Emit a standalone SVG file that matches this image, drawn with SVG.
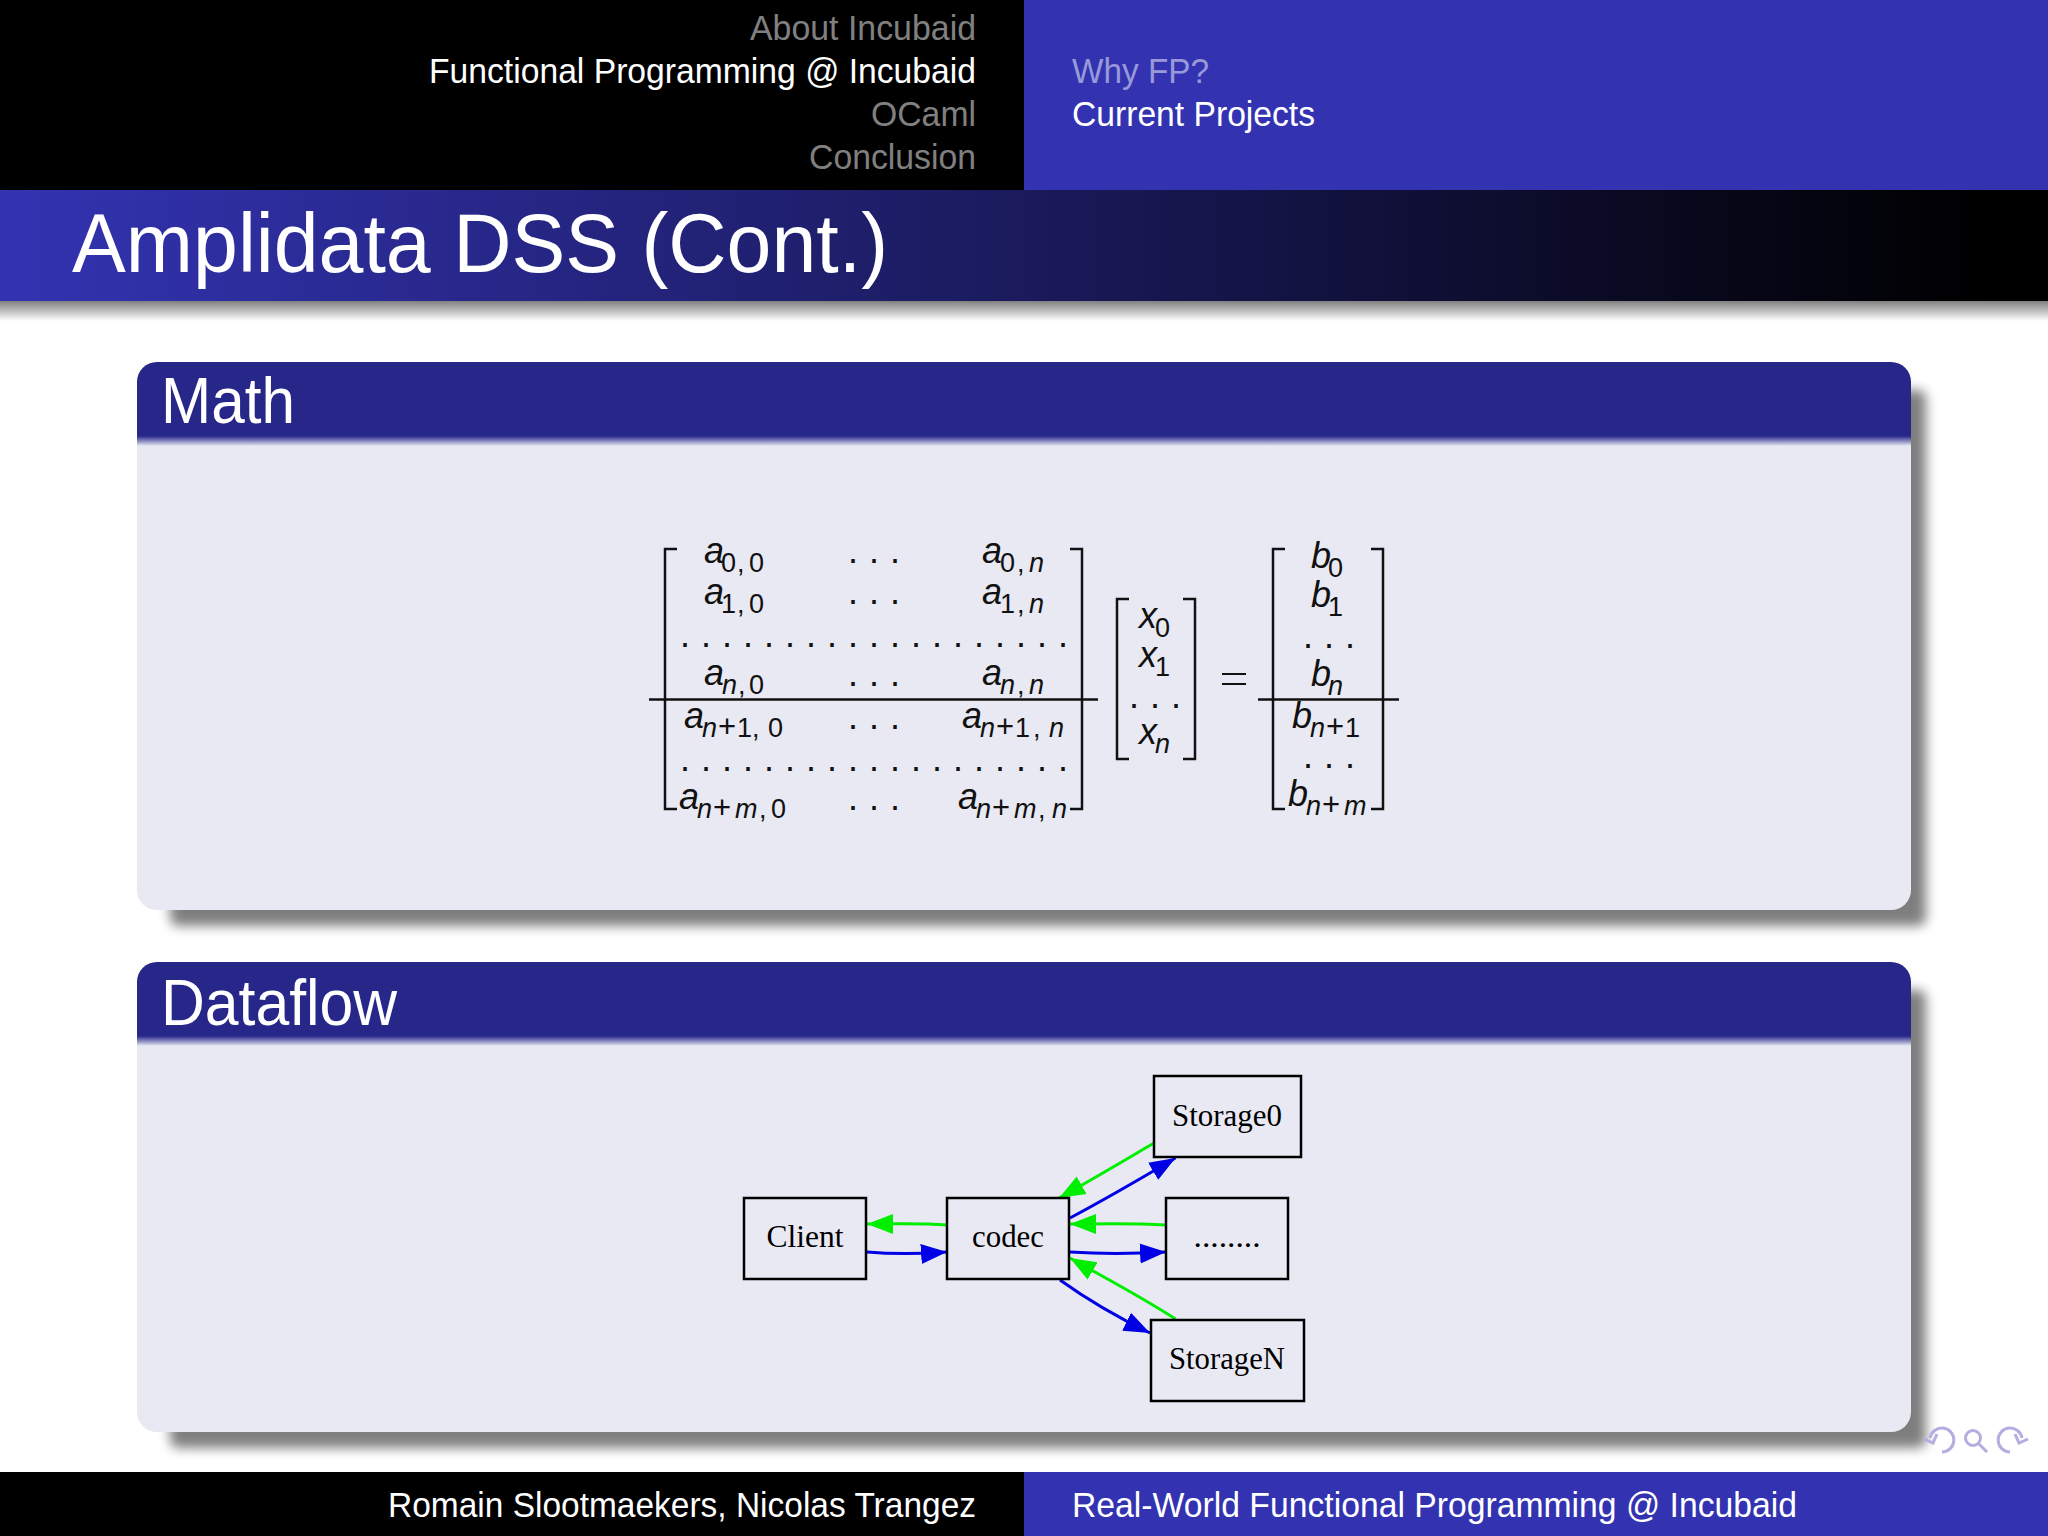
<svg xmlns="http://www.w3.org/2000/svg" width="2048" height="1536" viewBox="0 0 2048 1536">
<style>
text{font-family:"Liberation Sans",Arial,sans-serif}
.h{font-size:35px}
.dim{fill:#808080}.act{fill:#fff}.dimb{fill:#9999d9}
.bt{font-size:65px;fill:#fff}
.m{font-size:36px;font-style:italic;fill:#111}
.s{font-size:27px}.u{font-style:normal}.p{font-size:31px}
.d{font-size:36px;fill:#111;letter-spacing:11px}
.br{fill:none;stroke:#111;stroke-width:2.5}
.rule{stroke:#111;stroke-width:2.5}
.nb{fill:none;stroke:#000;stroke-width:2.5}
.nt{font-family:"Liberation Serif","Times New Roman",serif;font-size:32px;fill:#000;text-anchor:middle}
.g{fill:none;stroke:#00ee00;stroke-width:3}
.b{fill:none;stroke:#0000e6;stroke-width:3}
.nav{fill:none;stroke:#b3aede;stroke-width:3}
</style>
<defs>
<linearGradient id="tg" x1="0" x2="1" y1="0" y2="0"><stop offset="0" stop-color="#3333b2"/><stop offset="0.5" stop-color="#1a1a5c"/><stop offset="0.97" stop-color="#000"/></linearGradient>
<linearGradient id="ts" x1="0" x2="0" y1="0" y2="1"><stop offset="0" stop-color="#808080"/><stop offset="1" stop-color="#fff"/></linearGradient>
<linearGradient id="hb" x1="0" x2="0" y1="0" y2="1"><stop offset="0" stop-color="#272789"/><stop offset="1" stop-color="#e9e9f3"/></linearGradient>
<filter id="bl" x="-5%" y="-10%" width="110%" height="120%"><feGaussianBlur stdDeviation="6"/></filter>
<marker id="ag" markerUnits="userSpaceOnUse" markerWidth="27" markerHeight="21" refX="26" refY="10.500" orient="auto"><path d="M0,0.500L26,10.500L0,20.500Z" fill="#00ee00"/></marker>
<marker id="ab" markerUnits="userSpaceOnUse" markerWidth="27" markerHeight="21" refX="26" refY="10.500" orient="auto"><path d="M0,0.500L26,10.500L0,20.500Z" fill="#0000e6"/></marker>
</defs>
<rect width="2048" height="1536" fill="#fff"/>
<g id="header">
<rect width="1024" height="190" fill="#000"/>
<rect x="1024" width="1024" height="190" fill="#3333b2"/>
<text class="h dim" x="976" y="40" text-anchor="end" textLength="226" lengthAdjust="spacingAndGlyphs">About Incubaid</text>
<text class="h act" x="976" y="83" text-anchor="end" textLength="547" lengthAdjust="spacingAndGlyphs">Functional Programming @ Incubaid</text>
<text class="h dim" x="976" y="126" text-anchor="end" textLength="105" lengthAdjust="spacingAndGlyphs">OCaml</text>
<text class="h dim" x="976" y="169" text-anchor="end" textLength="167" lengthAdjust="spacingAndGlyphs">Conclusion</text>
<text class="h dimb" x="1072" y="83" textLength="137" lengthAdjust="spacingAndGlyphs">Why FP?</text>
<text class="h act" x="1072" y="126" textLength="243" lengthAdjust="spacingAndGlyphs">Current Projects</text>
</g>
<g id="title">
<rect y="301" width="2048" height="20" fill="url(#ts)"/>
<rect y="190" width="2048" height="111" fill="url(#tg)"/>
<text x="72" y="272" font-size="83" fill="#fff" textLength="816" lengthAdjust="spacingAndGlyphs">Amplidata DSS (Cont.)</text>
</g>
<g id="block-math">
<rect x="170" y="390" width="1756" height="536" rx="8" fill="#000" opacity=".5" filter="url(#bl)"/>
<rect x="137" y="362" width="1774" height="548" rx="20" fill="#e9e9f3"/>
<path d="M137,437V382a20,20 0 0 1 20-20H1891a20,20 0 0 1 20,20V437Z" fill="#272789"/>
<rect x="137" y="436" width="1774" height="10" fill="url(#hb)"/>
<text class="bt" x="161" y="423" textLength="134" lengthAdjust="spacingAndGlyphs">Math</text>
</g>
<g id="block-dataflow">
<rect x="170" y="990" width="1756" height="458" rx="8" fill="#000" opacity=".5" filter="url(#bl)"/>
<rect x="137" y="962" width="1774" height="470" rx="20" fill="#e9e9f3"/>
<path d="M137,1037V982a20,20 0 0 1 20-20H1891a20,20 0 0 1 20,20V1037Z" fill="#272789"/>
<rect x="137" y="1036" width="1774" height="10" fill="url(#hb)"/>
<text class="bt" x="161" y="1025" textLength="236" lengthAdjust="spacingAndGlyphs">Dataflow</text>
</g>
<g id="matrix">
<path class="br" d="M677,549H665V809H677"/>
<path class="br" d="M1070,549H1082V809H1070"/>
<path class="rule" d="M649,699.500H1098"/>
<text class="m" x="704" y="563">a<tspan class="s u" dy="9" x="721">0</tspan><tspan class="s u" x="737">,</tspan><tspan class="s u" x="749">0</tspan></text>
<text class="m" x="982" y="563">a<tspan class="s u" dy="9" x="1000">0</tspan><tspan class="s u" x="1017">,</tspan><tspan class="s" x="1029">n</tspan></text>
<text class="m" x="704" y="604">a<tspan class="s u" dy="9" x="721">1</tspan><tspan class="s u" x="737">,</tspan><tspan class="s u" x="749">0</tspan></text>
<text class="m" x="982" y="604">a<tspan class="s u" dy="9" x="1000">1</tspan><tspan class="s u" x="1017">,</tspan><tspan class="s" x="1029">n</tspan></text>
<text class="m" x="704" y="685">a<tspan class="s" dy="9" x="722">n</tspan><tspan class="s u" x="738">,</tspan><tspan class="s u" x="749">0</tspan></text>
<text class="m" x="982" y="685">a<tspan class="s" dy="9" x="1000">n</tspan><tspan class="s u" x="1017">,</tspan><tspan class="s" x="1029">n</tspan></text>
<text class="m" x="684" y="728">a<tspan class="s" dy="9" x="702">n</tspan><tspan class="u p" x="718">+</tspan><tspan class="s u" x="737">1</tspan><tspan class="s u" x="752">,</tspan><tspan class="s u" x="768">0</tspan></text>
<text class="m" x="962" y="728">a<tspan class="s" dy="9" x="980">n</tspan><tspan class="u p" x="996">+</tspan><tspan class="s u" x="1015">1</tspan><tspan class="s u" x="1033">,</tspan><tspan class="s" x="1049">n</tspan></text>
<text class="m" x="679" y="809">a<tspan class="s" dy="9" x="697">n</tspan><tspan class="u p" x="713">+</tspan><tspan class="s" x="735">m</tspan><tspan class="s u" x="759">,</tspan><tspan class="s u" x="771">0</tspan></text>
<text class="m" x="958" y="809">a<tspan class="s" dy="9" x="976">n</tspan><tspan class="u p" x="992">+</tspan><tspan class="s" x="1014">m</tspan><tspan class="s u" x="1038">,</tspan><tspan class="s" x="1052">n</tspan></text>
<text class="d" x="848" y="563">...</text>
<text class="d" x="848" y="604">...</text>
<text class="d" x="848" y="686">...</text>
<text class="d" x="848" y="729">...</text>
<text class="d" x="848" y="810">...</text>
<text class="d" x="680" y="647">...................</text>
<text class="d" x="680" y="771">...................</text>
</g>
<g id="vector-x">
<path class="br" d="M1129,599H1117V759H1129"/>
<path class="br" d="M1183,599H1195V759H1183"/>
<text class="m" x="1139" y="628">x<tspan class="s u" dy="9" x="1155">0</tspan></text>
<text class="m" x="1139" y="667">x<tspan class="s u" dy="9" x="1155">1</tspan></text>
<text class="d" x="1129" y="708">...</text>
<text class="m" x="1139" y="744">x<tspan class="s" dy="9" x="1155">n</tspan></text>
</g>
<g id="equals">
<path d="M1222,674H1246M1222,684H1246" stroke="#111" stroke-width="2"/>
</g>
<g id="vector-b">
<path class="br" d="M1285,549H1273V809H1285"/>
<path class="br" d="M1371,549H1383V809H1371"/>
<path class="rule" d="M1258,699.500H1399"/>
<text class="m" x="1311" y="568">b<tspan class="s u" dy="9" x="1328">0</tspan></text>
<text class="m" x="1311" y="607">b<tspan class="s u" dy="9" x="1328">1</tspan></text>
<text class="d" x="1303" y="648">...</text>
<text class="m" x="1311" y="686">b<tspan class="s" dy="9" x="1328">n</tspan></text>
<text class="m" x="1292" y="728">b<tspan class="s" dy="9" x="1310">n</tspan><tspan class="u p" x="1326">+</tspan><tspan class="s u" x="1345">1</tspan></text>
<text class="d" x="1303" y="768">...</text>
<text class="m" x="1288" y="806">b<tspan class="s" dy="9" x="1306">n</tspan><tspan class="u p" x="1322">+</tspan><tspan class="s" x="1344">m</tspan></text>
</g>
<g id="connectors">
<path class="g" marker-end="url(#ag)" d="M1154,1143C1130,1157 1100,1175 1059,1198"/>
<path class="b" marker-end="url(#ab)" d="M1070,1218C1100,1202 1130,1185 1175.500,1158"/>
<path class="g" marker-end="url(#ag)" d="M1166,1225C1130,1223 1100,1224 1070,1224"/>
<path class="b" marker-end="url(#ab)" d="M1070,1252C1100,1254 1130,1254 1166,1252"/>
<path class="g" marker-end="url(#ag)" d="M1175.500,1319C1140,1296 1105,1278 1070,1258"/>
<path class="b" marker-end="url(#ab)" d="M1060,1280C1085,1298 1115,1316 1150,1333"/>
<path class="g" marker-end="url(#ag)" d="M947,1225C920,1223 895,1224 867,1224"/>
<path class="b" marker-end="url(#ab)" d="M867,1252C890,1254 920,1254 947,1252"/>
</g>
<g id="node-storage0"><rect class="nb" x="1154" y="1076" width="147" height="81"/><text class="nt" x="1227" y="1126" textLength="110" lengthAdjust="spacingAndGlyphs">Storage0</text></g>
<g id="node-client"><rect class="nb" x="744" y="1198" width="122" height="81"/><text class="nt" x="805" y="1247" textLength="77" lengthAdjust="spacingAndGlyphs">Client</text></g>
<g id="node-codec"><rect class="nb" x="947" y="1198" width="122" height="81"/><text class="nt" x="1008" y="1247" textLength="72" lengthAdjust="spacingAndGlyphs">codec</text></g>
<g id="node-dots"><rect class="nb" x="1166" y="1198" width="122" height="81"/><text class="nt" x="1227" y="1247" textLength="67" lengthAdjust="spacingAndGlyphs">........</text></g>
<g id="node-storagen"><rect class="nb" x="1151" y="1320" width="153" height="81"/><text class="nt" x="1227" y="1369" textLength="116" lengthAdjust="spacingAndGlyphs">StorageN</text></g>
<g id="footer">
<rect y="1472" width="1024" height="64" fill="#000"/>
<rect x="1024" y="1472" width="1024" height="64" fill="#3333b2"/>
<text class="h act" x="976" y="1517" text-anchor="end" textLength="588" lengthAdjust="spacingAndGlyphs">Romain Slootmaekers, Nicolas Trangez</text>
<text class="h act" x="1072" y="1517" textLength="725" lengthAdjust="spacingAndGlyphs">Real-World Functional Programming @ Incubaid</text>
</g>
<g id="nav">
<path class="nav" d="M1942,1452A12,12 0 1 0 1930,1438M1924,1439L1933,1443L1937,1434"/>
<circle class="nav" cx="1973" cy="1438" r="7.500"/>
<path class="nav" d="M1978,1443L1987,1452" stroke-width="4"/>
<path class="nav" d="M2010,1452A12,12 0 1 1 2022,1438M2028,1439L2019,1443L2015,1434"/>
</g>
</svg>
